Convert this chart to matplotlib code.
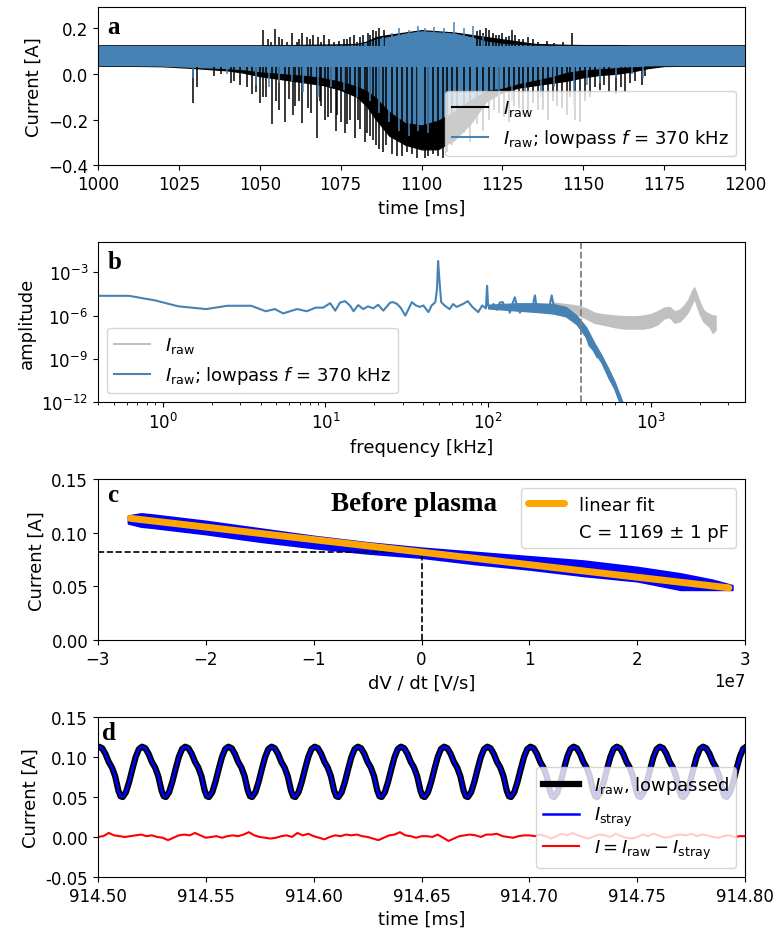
import numpy as np
import matplotlib
matplotlib.use('Agg')
import matplotlib.pyplot as plt
from matplotlib.ticker import FormatStrFormatter, NullLocator

# ---------------- panel a: raw current, envelope
t_env = [1000, 1010, 1020, 1030, 1040, 1045, 1050, 1055, 1060, 1065, 1070, 1075, 1080, 1083, 1086,
         1090, 1095, 1100, 1105, 1110, 1115, 1120, 1125, 1130, 1135, 1140, 1145, 1150, 1155, 1160,
         1165, 1170, 1175, 1180, 1190, 1200]
raw_hi = [0.124, 0.124, 0.124, 0.124, 0.124, 0.124, 0.124, 0.125, 0.125, 0.126, 0.127, 0.128, 0.13, 0.14, 0.16,
          0.17, 0.18, 0.19, 0.185, 0.18, 0.17, 0.16, 0.15, 0.14, 0.13, 0.128, 0.126, 0.125, 0.125, 0.125,
          0.124, 0.124, 0.124, 0.124, 0.124, 0.124]
raw_lo = [0.035, 0.035, 0.033, 0.025, 0.015, 0.005, -0.01, -0.02, -0.03, -0.04, -0.05, -0.07, -0.1, -0.14, -0.2,
          -0.27, -0.31, -0.33, -0.33, -0.29, -0.22, -0.12, -0.08, -0.06, -0.05, -0.04, -0.03, -0.015, -0.005, 0.0,
          0.01, 0.025, 0.034, 0.035, 0.035, 0.035]
lp_hi = [0.121, 0.121, 0.121, 0.121, 0.121, 0.121, 0.121, 0.121, 0.121, 0.121, 0.121, 0.122, 0.125, 0.135, 0.15,
         0.16, 0.175, 0.185, 0.18, 0.175, 0.16, 0.14, 0.13, 0.125, 0.122, 0.121, 0.121, 0.121, 0.121, 0.121,
         0.121, 0.121, 0.121, 0.121, 0.121, 0.121]
lp_lo = [0.038, 0.038, 0.036, 0.03, 0.025, 0.02, 0.012, 0.006, 0.0, -0.005, -0.015, -0.03, -0.05, -0.07, -0.1,
         -0.16, -0.21, -0.22, -0.2, -0.16, -0.11, -0.07, -0.06, -0.04, -0.025, -0.01, 0.01, 0.02, 0.025, 0.03,
         0.033, 0.037, 0.038, 0.038, 0.038, 0.038]

raw_dn_t = [1029.5, 1030.5, 1036, 1038, 1041, 1042, 1044, 1046, 1047.5, 1049, 1050, 1051, 1052, 1053.8, 1055,
            1056, 1057.8, 1059, 1060.2, 1061, 1062, 1063.2, 1065, 1066, 1067.6, 1068.5, 1069, 1070.3, 1071,
            1072, 1073.5, 1074, 1075, 1076.5, 1077, 1078, 1079.5, 1080.5, 1081, 1082.5, 1083, 1084, 1085,
            1086, 1087, 1088, 1089, 1091, 1092.5, 1094, 1095.5, 1097, 1098.5, 1101, 1102, 1103.5, 1105,
            1106.5, 1108, 1109.5, 1111, 1113, 1115, 1117, 1119, 1121, 1122.5, 1124, 1125.5, 1127, 1128.5,
            1130, 1131.5, 1133, 1134.5, 1136, 1137.5, 1139, 1140.5, 1142, 1143.5, 1145, 1146, 1147.5, 1149,
            1150.5, 1152, 1153.5, 1155, 1156.5, 1158, 1160, 1161.5, 1163, 1164.5, 1166, 1168, 1169]
raw_dn_v = [-0.13, -0.06, -0.01, 0.0, -0.04, -0.03, -0.05, -0.06, -0.09, -0.08, -0.13, -0.1, -0.1, -0.22, -0.12,
            -0.16, -0.21, -0.11, -0.18, -0.14, -0.12, -0.215, -0.15, -0.17, -0.28, -0.12, -0.14, -0.2, -0.19,
            -0.17, -0.25, -0.18, -0.21, -0.26, -0.22, -0.2, -0.28, -0.2, -0.24, -0.3, -0.26, -0.27, -0.29,
            -0.31, -0.33, -0.34, -0.31, -0.35, -0.36, -0.36, -0.34, -0.35, -0.37, -0.37, -0.36, -0.35, -0.36,
            -0.37, -0.34, -0.31, -0.28, -0.26, -0.3, -0.22, -0.25, -0.2, -0.16, -0.17, -0.19, -0.21, -0.14,
            -0.15, -0.18, -0.19, -0.13, -0.16, -0.16, -0.2, -0.12, -0.14, -0.15, -0.18, -0.1, -0.2, -0.21,
            -0.12, -0.1, -0.06, -0.07, -0.05, -0.08, -0.09, -0.06, -0.08, -0.04, -0.03, -0.05, -0.01]
raw_up_t = [1051, 1052.5, 1053.5, 1054.7, 1056, 1057, 1058.5, 1060, 1061.5, 1062, 1063, 1064.5, 1065.5,
            1066.6, 1068, 1069, 1070, 1071.5, 1073, 1074.5, 1076, 1077, 1078, 1079, 1080, 1081, 1082,
            1083.5, 1084, 1085, 1086, 1087, 1088.5, 1117, 1118, 1119, 1120, 1121, 1122, 1123, 1124, 1125,
            1126, 1127, 1128, 1129, 1130, 1131.5, 1133, 1134.5, 1136, 1138.8, 1141, 1143.8, 1146.5]
raw_up_v = [0.19, 0.15, 0.14, 0.195, 0.16, 0.15, 0.14, 0.18, 0.14, 0.15, 0.18, 0.16, 0.15,
            0.17, 0.16, 0.14, 0.17, 0.15, 0.14, 0.145, 0.15, 0.15, 0.16, 0.17, 0.14, 0.16, 0.17,
            0.18, 0.17, 0.19, 0.185, 0.2, 0.19, 0.185, 0.19, 0.18, 0.2, 0.19, 0.18, 0.17, 0.17, 0.18,
            0.16, 0.165, 0.19, 0.17, 0.15, 0.15, 0.16, 0.15, 0.14, 0.145, 0.135, 0.14, 0.18]
lp_dn_t = [1029.5, 1040, 1049, 1053, 1056, 1060, 1063.5, 1068, 1072, 1076, 1080, 1084, 1087, 1090,
           1093, 1096, 1099, 1102, 1124, 1128, 1132, 1137, 1141, 1147, 1151, 1155, 1160, 1165, 1168.5]
lp_dn_v = [-0.02, 0.0, -0.05, -0.06, -0.04, -0.03, -0.08, -0.1, -0.06, -0.07, -0.1, -0.12, -0.17, -0.21,
           -0.25, -0.27, -0.25, -0.26, -0.1, -0.12, -0.08, -0.1, -0.06, -0.14, -0.05, -0.04, -0.02, 0.0, -0.02]
lp_up_t = [1088, 1091, 1093, 1096, 1099, 1101, 1104, 1107, 1110, 1113, 1116, 1119]
lp_up_v = [0.16, 0.18, 0.2, 0.19, 0.21, 0.2, 0.205, 0.2, 0.225, 0.2, 0.21, 0.17]

# ---------------- panel b: spectra (log10 amplitude)
f_lp = [0.4, 0.62, 0.9, 1.25, 1.85, 2.5, 3.5, 4.3, 4.9, 5.5, 6.7, 7.7, 8.7, 9.7, 10.7, 11.5, 12.3, 13.2,
        14.2, 14.9, 15.9, 17.1, 18.3, 19.7, 21.1, 22.7, 25, 26.1, 27.6, 29, 31, 34, 36, 38, 40, 43, 45,
        47.4, 48.5, 49.3, 50.2, 51.5, 54, 58, 61, 64, 67, 70, 75, 80, 87, 92, 97, 98.6, 100, 103, 108,
        113, 118, 123, 128, 132, 136, 141, 146, 151, 157, 165, 176, 185, 194, 200, 208, 216, 225, 235,
        246, 255, 265, 275, 285, 295, 305, 315, 330, 352, 370, 382, 400, 420, 445, 470, 484, 520, 560,
        600, 647, 700]
a_lp = [-4.63, -4.63, -4.95, -5.36, -5.55, -5.32, -5.32, -5.7, -5.55, -5.85, -5.55, -5.7, -5.45, -5.45,
        -5.14, -5.66, -5.1, -5.0, -5.32, -5.7, -5.27, -5.55, -5.36, -5.5, -5.25, -5.66, -5.1, -5.07, -5.2,
        -5.45, -6.0, -5.07, -5.3, -5.4, -5.3, -5.76, -5.3, -5.07, -4.2, -2.22, -3.5, -5.07, -5.3, -5.55,
        -5.2, -5.4, -5.3, -5.2, -5.0, -5.4, -5.76, -5.3, -5.5, -3.94, -5.3, -5.45, -5.2, -5.6, -5.1, -5.07,
        -5.5, -5.3, -5.8, -5.2, -4.73, -5.4, -5.8, -5.3, -5.4, -5.7, -4.6, -5.6, -5.4, -5.55, -5.35, -5.7,
        -4.6, -5.5, -5.75, -5.5, -5.8, -5.6, -5.85, -5.7, -6.0, -6.47, -6.4, -7.05, -7.4, -8.08, -8.4,
        -8.9, -8.77, -9.6, -10.4, -11.0, -12.0, -13.0]
f_lp_band = [100, 150, 200, 250, 300, 350, 400, 450, 500, 550, 600, 650, 700]
a_lp_band_lo = [-5.5, -5.65, -5.75, -5.85, -6.05, -6.6, -7.5, -8.5, -9.3, -10.3, -11.1, -12.1, -13.0]
a_lp_band_hi = [-5.25, -5.15, -5.15, -5.2, -5.4, -6.0, -6.8, -7.9, -8.8, -9.7, -10.6, -11.6, -12.6]
f_raw = [250, 300, 350, 400, 450, 500, 600, 700, 800, 900, 1000, 1100, 1200, 1300, 1400, 1500, 1600,
         1700, 1800, 1850, 1900, 2000, 2100, 2200, 2300, 2400, 2500]
a_raw_hi = [-5.1, -5.2, -5.3, -5.5, -5.8, -5.9, -6.0, -6.05, -6.05, -6.0, -5.9, -5.7, -5.45, -5.4, -5.7,
            -5.6, -5.3, -4.9, -4.25, -4.05, -4.4, -5.1, -5.6, -5.8, -5.9, -6.0, -6.0]
a_raw_lo = [-5.6, -5.8, -5.9, -6.2, -6.5, -6.6, -6.8, -6.9, -6.9, -6.9, -6.8, -6.6, -6.2, -6.1, -6.5,
            -6.4, -6.1, -5.7, -5.1, -4.8, -5.2, -5.9, -6.4, -6.6, -6.8, -7.2, -7.0]
f_cut = 370

# ---------------- panel c: current vs dV/dt
dvdt = [-2.72e7, -2.6e7, -2.5e7, -2.0e7, -1.5e7, -1.0e7, -0.5e7, 0.0, 0.5e7, 1.0e7, 1.5e7, 2.0e7,
        2.4e7, 2.7e7, 2.88e7]
cur_hi = [0.116, 0.118, 0.117, 0.111, 0.104, 0.097, 0.091, 0.086, 0.082, 0.078, 0.074, 0.068,
          0.062, 0.056, 0.051]
cur_lo = [0.109, 0.106, 0.105, 0.099, 0.092, 0.086, 0.081, 0.077, 0.071, 0.066, 0.060, 0.055,
          0.047, 0.047, 0.047]
C_fit = 1169e-12
I0_fit = 0.082
fit_range = [-2.7e7, 2.85e7]

# ---------------- panel d: one cycle of the stray current, peak times, residual
cyc_dt = [0.0, 0.0015, 0.003, 0.0045, 0.006, 0.0075, 0.009, 0.010, 0.011, 0.0125, 0.014, 0.0155, 0.017, 0.0185]
cyc_v = [0.113, 0.111, 0.104, 0.094, 0.087, 0.076, 0.058, 0.051, 0.050, 0.056, 0.069, 0.085, 0.100, 0.110]
peak_t = [914.4805, 914.5005, 914.5205, 914.5405, 914.5605, 914.5805, 914.6005, 914.6205, 914.6405,
          914.6605, 914.6805, 914.7005, 914.7205, 914.7405, 914.7605, 914.7805, 914.8005]
t_res0, t_res_step = 914.50, 0.0025
i_res = [0.000, 0.001, 0.005, 0.002, 0.001, 0.000, 0.001, 0.002, 0.003, 0.001,
         0.002, 0.000, -0.001, -0.004, -0.001, 0.002, 0.003, 0.002, 0.005, 0.002,
         -0.001, 0.000, 0.001, -0.001, 0.001, 0.002, 0.001, 0.003, 0.006, 0.002,
         0.000, -0.001, -0.002, -0.001, 0.001, 0.002, 0.000, 0.005, 0.002, 0.004,
         0.001, -0.001, -0.003, 0.000, 0.002, 0.001, 0.003, 0.002, 0.003, 0.001,
         0.000, -0.002, -0.004, -0.001, 0.002, 0.003, 0.006, 0.002, 0.001, -0.001,
         0.001, 0.001, 0.000, 0.003, -0.001, -0.005, -0.002, 0.001, 0.002, 0.003,
         0.002, 0.000, 0.003, 0.003, 0.004, 0.001, 0.000, -0.001, 0.001, 0.002,
         0.002, 0.001, 0.003, 0.001, -0.002, 0.001, 0.004, 0.002, 0.005, 0.002,
         0.000, -0.002, 0.001, 0.003, 0.002, 0.000, 0.004, 0.001, -0.001, -0.002,
         0.000, 0.003, 0.001, 0.004, 0.002, -0.001, 0.000, 0.002, 0.003, 0.002,
         0.004, 0.001, 0.003, 0.002, 0.000, -0.001, 0.001, 0.002, 0.000, 0.001,
         0.001]

plt.rcParams['font.size'] = 12
plt.rcParams['axes.labelsize'] = 13
plt.rcParams['legend.fontsize'] = 13
label_font = dict(family='Liberation Serif', weight='bold', fontsize=18)

fig = plt.figure(figsize=(7.77, 9.29), dpi=100)
ax_a = fig.add_axes([0.126, 0.821, 0.833, 0.170])
ax_b = fig.add_axes([0.126, 0.566, 0.833, 0.172])
ax_c = fig.add_axes([0.126, 0.310, 0.833, 0.173])
ax_d = fig.add_axes([0.126, 0.055, 0.833, 0.172])

# ---- a
ax_a.fill_between(t_env, raw_lo, raw_hi, color='black', lw=1)
ax_a.vlines(raw_dn_t, 0.03, raw_dn_v, color='black', lw=1.1)
ax_a.vlines(raw_up_t, 0.12, raw_up_v, color='black', lw=1.1)
ax_a.fill_between(t_env, lp_lo, lp_hi, color='steelblue', lw=1)
ax_a.vlines(lp_dn_t, 0.04, lp_dn_v, color='steelblue', lw=1.1)
ax_a.vlines(lp_up_t, 0.12, lp_up_v, color='steelblue', lw=1.1)
ax_a.plot([], [], color='black', lw=1.5, label=r'$I_{\rm raw}$')
ax_a.plot([], [], color='steelblue', lw=1.5, label=r'$I_{\rm raw}$; lowpass $f$ = 370 kHz')
ax_a.set_xlim(1000, 1200)
ax_a.set_ylim(-0.4, 0.29)
ax_a.set_yticks([-0.4, -0.2, 0.0, 0.2])
ax_a.set_xlabel('time [ms]')
ax_a.set_ylabel('Current [A]')
ax_a.legend(loc='lower right')
ax_a.text(0.015, 0.84, 'a', transform=ax_a.transAxes, va='baseline', **label_font)

# ---- b
ax_b.fill_between(f_raw, 10.0 ** np.array(a_raw_lo), 10.0 ** np.array(a_raw_hi), color='#c0c0c0', lw=1)
ax_b.plot([], [], color='#c0c0c0', lw=1.5, label=r'$I_{\rm raw}$')
ax_b.fill_between(f_lp_band, 10.0 ** np.array(a_lp_band_lo), 10.0 ** np.array(a_lp_band_hi),
                  color='steelblue', lw=1)
ax_b.plot(f_lp, 10.0 ** np.array(a_lp), color='steelblue', lw=1.5,
          label=r'$I_{\rm raw}$; lowpass $f$ = 370 kHz')
ax_b.axvline(f_cut, color='gray', ls='--', lw=1.3)
ax_b.set_xscale('log')
ax_b.set_yscale('log')
ax_b.set_xlim(0.4, 3800)
ax_b.set_ylim(1e-12, 10 ** -0.93)
ax_b.set_yticks([1e-12, 1e-9, 1e-6, 1e-3])
ax_b.yaxis.set_minor_locator(NullLocator())
ax_b.set_xlabel('frequency [kHz]')
ax_b.set_ylabel('amplitude')
ax_b.legend(loc='lower left')
ax_b.text(0.015, 0.84, 'b', transform=ax_b.transAxes, va='baseline', **label_font)

# ---- c
ax_c.fill_between(dvdt, cur_lo, cur_hi, color='blue', lw=1.5)
ax_c.plot([-3e7, 0], [I0_fit, I0_fit], color='black', ls='--', lw=1.2)
ax_c.plot([0, 0], [0, I0_fit], color='black', ls='--', lw=1.2)
fit_x = np.array(fit_range)
ax_c.plot(fit_x, I0_fit - C_fit * fit_x, color='orange', lw=5, solid_capstyle='round', label='linear fit')
ax_c.plot([], [], ls='none', label='C = 1169 ± 1 pF')
ax_c.set_xlim(-3e7, 3e7)
ax_c.set_ylim(0, 0.15)
ax_c.set_yticks([0.0, 0.05, 0.10, 0.15])
ax_c.yaxis.set_major_formatter(FormatStrFormatter('%.2f'))
ax_c.set_xlabel('dV / dt [V/s]')
ax_c.set_ylabel('Current [A]')
ax_c.legend(loc='upper right')
ax_c.text(0.014, 0.865, 'c', transform=ax_c.transAxes, va='baseline', **label_font)
ax_c.text(0.488, 0.81, 'Before plasma', transform=ax_c.transAxes, ha='center', va='baseline',
          family='Liberation Serif', weight='bold', fontsize=19.5)

# ---- d
t_d = np.concatenate([[p + d for d in cyc_dt] for p in peak_t])
i_d = np.concatenate([cyc_v for p in peak_t])
t_r = t_res0 + t_res_step * np.arange(len(i_res))
ax_d.plot(t_d, i_d, color='black', lw=4.5, label=r'$I_{\rm raw}$, lowpassed')
ax_d.plot(t_d, i_d, color='blue', lw=1.8, label=r'$I_{\rm stray}$')
ax_d.plot(t_r, i_res, color='red', lw=1.5, label=r'$I = I_{\rm raw} - I_{\rm stray}$')
ax_d.set_xlim(914.50, 914.80)
ax_d.set_ylim(-0.05, 0.15)
ax_d.set_xticks([914.50, 914.55, 914.60, 914.65, 914.70, 914.75, 914.80])
ax_d.xaxis.set_major_formatter(FormatStrFormatter('%.2f'))
ax_d.set_yticks([-0.05, 0.0, 0.05, 0.10, 0.15])
ax_d.yaxis.set_major_formatter(FormatStrFormatter('%.2f'))
ax_d.set_xlabel('time [ms]')
ax_d.set_ylabel('Current [A]')
ax_d.legend(loc='lower right')
ax_d.text(0.006, 0.86, 'd', transform=ax_d.transAxes, va='baseline', **label_font)

fig.savefig('out.png', dpi=100)
